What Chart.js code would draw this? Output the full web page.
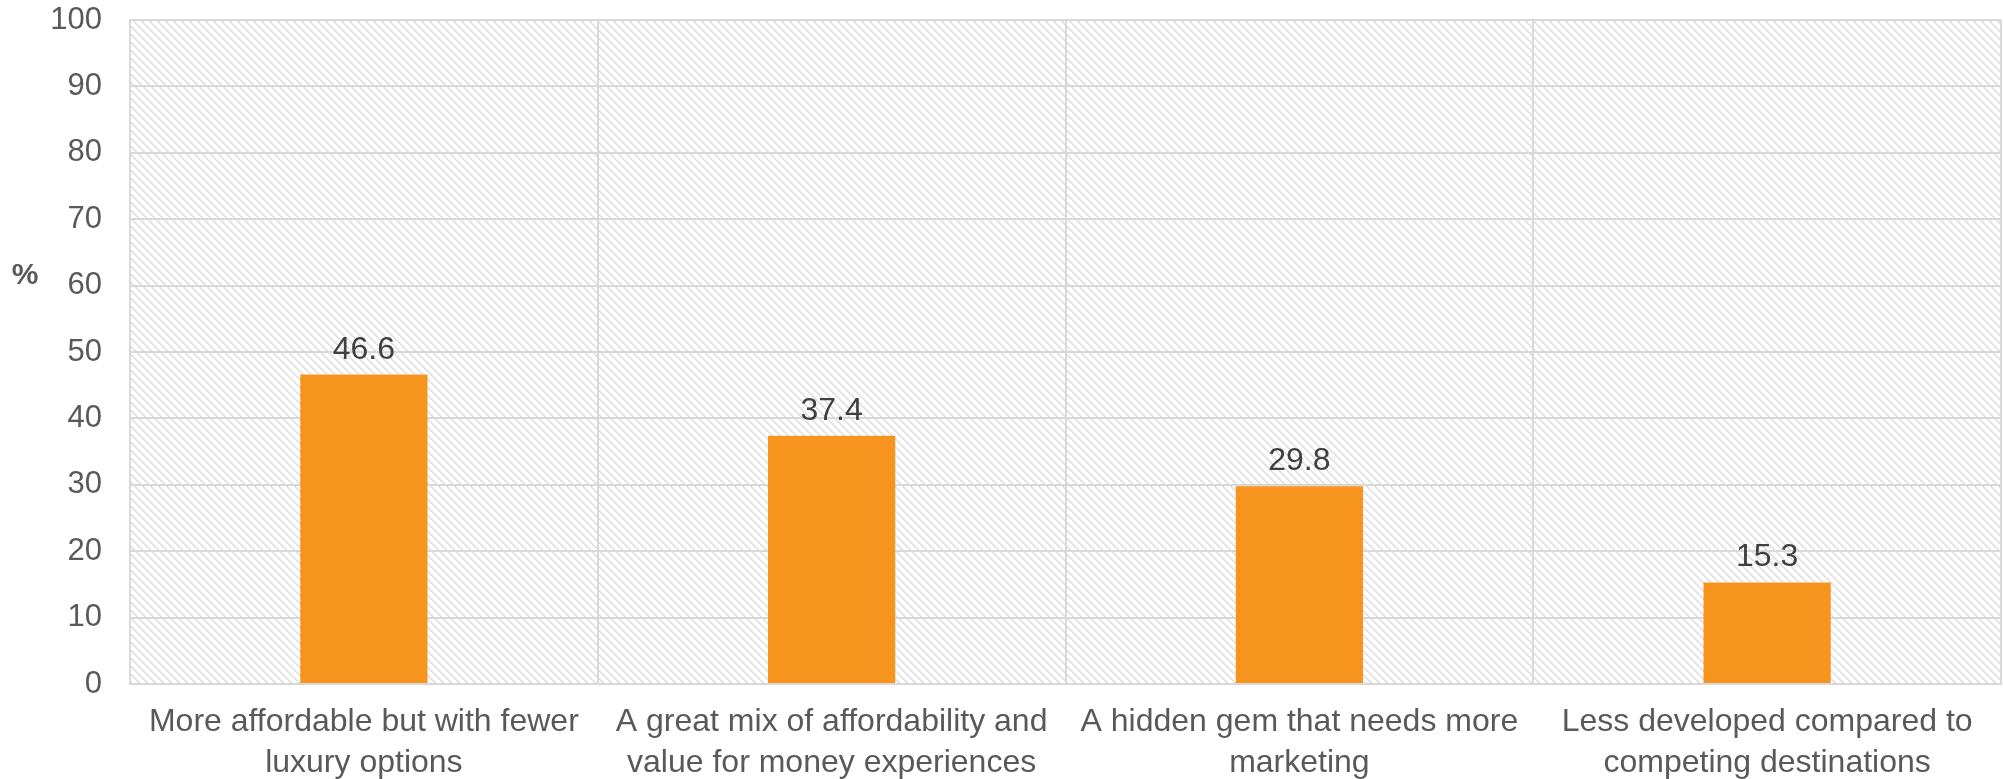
<!DOCTYPE html>
<html>
<head>
<meta charset="utf-8">
<script src="https://cdn.jsdelivr.net/npm/chart.js@4/dist/chart.umd.min.js"></script>
<style>
  html, body { margin: 0; padding: 0; background: #ffffff; }
  #wrap { width: 2003px; height: 779px; position: relative; }
</style>
</head>
<body>
<div id="wrap"><canvas id="c"></canvas></div>
<script>
const categories = [
  ["More affordable but with fewer", "luxury options"],
  ["A great mix of affordability and", "value for money experiences"],
  ["A hidden gem that needs more", "marketing"],
  ["Less developed compared to", "competing destinations"]
];
const values = [46.6, 37.4, 29.8, 15.3];
const yTicks = [0, 10, 20, 30, 40, 50, 60, 70, 80, 90, 100];
const yAxisLabel = "%";

const FONT = "'Liberation Sans', Arial, sans-serif";

function makePattern(ctx) {
  const t = document.createElement('canvas');
  t.width = 8; t.height = 8;
  const g = t.getContext('2d');
  g.fillStyle = '#ffffff';
  g.fillRect(0, 0, 8, 8);
  g.fillStyle = '#dedede';
  for (let i = 0; i < 8; i++) {
    g.fillRect(i, i, 1, 1);
    g.fillRect((i + 1) % 8, i, 1, 1);
  }
  return ctx.createPattern(t, 'repeat');
}

const hatchPlugin = {
  id: 'hatch',
  beforeDraw(chart) {
    const { ctx, chartArea: a } = chart;
    ctx.save();
    ctx.fillStyle = makePattern(ctx);
    ctx.fillRect(a.left, a.top, a.right - a.left, a.bottom - a.top);
    ctx.restore();
  }
};

const labelPlugin = {
  id: 'valueLabels',
  afterDatasetsDraw(chart) {
    const { ctx } = chart;
    const meta = chart.getDatasetMeta(0);
    ctx.save();
    ctx.font = "32px " + FONT;
    ctx.fillStyle = '#404040';
    ctx.textAlign = 'center';
    ctx.textBaseline = 'alphabetic';
    meta.data.forEach((bar, i) => {
      ctx.fillText(values[i].toFixed(1), bar.x, bar.y - 16);
    });
    ctx.font = "bold 30px " + FONT;
    ctx.fillStyle = '#595959';
    ctx.textBaseline = 'middle';
    ctx.fillText(yAxisLabel, 25, 276);
    ctx.restore();
  }
};

new Chart(document.getElementById('c'), {
  type: 'bar',
  data: {
    labels: categories,
    datasets: [{
      data: values,
      backgroundColor: '#F7941D',
      borderWidth: 0,
      categoryPercentage: 1.0,
      barPercentage: 0.272
    }]
  },
  options: {
    responsive: true,
    maintainAspectRatio: false,
    animation: false,
    layout: { padding: { top: 20, right: 2, left: 0, bottom: 0 } },
    plugins: {
      legend: { display: false },
      tooltip: { enabled: false },
      title: { display: false }
    },
    scales: {
      x: {
        grid: {
          display: true,
          offset: true,
          color: '#d9d9d9',
          lineWidth: 2,
          drawTicks: false
        },
        border: { display: true, color: '#d9d9d9', width: 2 },
        ticks: {
          color: '#595959',
          font: { family: FONT, size: 32, lineHeight: 1.28 },
          padding: 18,
          maxRotation: 0,
          autoSkip: false
        },
        afterFit(scale) {
          scale.height = 95;
          scale.paddingLeft = 0; scale.paddingRight = 0;
        }
      },
      y: {
        min: 0,
        max: 100,
        afterBuildTicks(scale) { scale.ticks = yTicks.map(v => ({ value: v })); },
        grid: {
          color: '#d9d9d9',
          lineWidth: 2,
          drawTicks: false
        },
        border: { display: true, color: '#d9d9d9', width: 2 },
        ticks: {
          color: '#595959',
          font: { family: FONT, size: 31 },
          padding: 28
        },
        afterFit(scale) {
          scale.width = 130;
          scale.paddingTop = 0; scale.paddingBottom = 0;
        }
      }
    }
  },
  plugins: [hatchPlugin, labelPlugin]
});
</script>
</body>
</html>
